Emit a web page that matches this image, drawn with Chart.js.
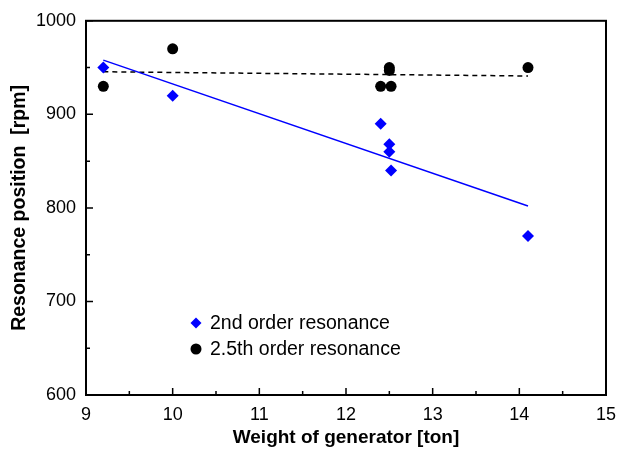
<!DOCTYPE html>
<html>
<head>
<meta charset="utf-8">
<script src="https://cdn.jsdelivr.net/npm/chart.js@4/dist/chart.umd.min.js"></script>
<style>
  html, body { margin: 0; padding: 0; background: #fff; }
  canvas { display: block; }
</style>
</head>
<body>
<canvas id="chart" width="619" height="450"></canvas>
<script>
// measured points
var weight2nd = [9.2, 10, 12.4, 12.5, 12.5, 12.52, 14.1];
var rpm2nd = [950, 920, 890, 868, 860, 840, 770];
var weight25 = [9.2, 10, 12.4, 12.5, 12.5, 12.52, 14.1];
var rpm25 = [930, 970, 930, 950, 947, 930, 950];

// trend lines (end points)
var fitWeight = [9.2, 14.1];
var fit2nd = [958, 802];
var fit25 = [945.5, 941];

var legendNames = ['2nd order resonance', '2.5th order resonance'];
var FONT = '"Liberation Sans", Arial, sans-serif';

function toPoints(xs, ys) {
    return xs.map(function (x, i) { return { x: x, y: ys[i] }; });
}

// frame, inward ticks and legend box inside the plot
var framePlugin = {
    id: 'frame',
    afterDraw: function (chart) {
        var ctx = chart.ctx;
        var a = chart.chartArea;
        var xs = chart.scales.x;
        var ys = chart.scales.y;
        ctx.save();
        ctx.strokeStyle = '#000';
        ctx.lineWidth = 2;
        ctx.strokeRect(a.left, a.top, a.right - a.left, a.bottom - a.top);

        ctx.lineWidth = 1.5;
        ctx.beginPath();
        for (var v = 9; v <= 15; v += 0.5) {
            var px = xs.getPixelForValue(v);
            var len = (v % 1 === 0) ? 7 : 4;
            ctx.moveTo(px, a.bottom);
            ctx.lineTo(px, a.bottom - len);
        }
        for (var r = 600; r <= 1000; r += 50) {
            var py = ys.getPixelForValue(r);
            var l = (r % 100 === 0) ? 7 : 4;
            ctx.moveTo(a.left, py);
            ctx.lineTo(a.left + l, py);
        }
        ctx.stroke();

        // legend
        var items = [
            { style: 'rectRot', color: '#0000ff', r: 5.5 },
            { style: 'circle', color: '#000', r: 5.5 }
        ];
        ctx.font = '19.5px ' + FONT;
        ctx.textBaseline = 'middle';
        items.forEach(function (it, i) {
            var y = 323 + i * 26;
            ctx.fillStyle = it.color;
            ctx.beginPath();
            if (it.style === 'circle') {
                ctx.arc(196, y, it.r, 0, Math.PI * 2);
            } else {
                ctx.moveTo(196, y - it.r);
                ctx.lineTo(196 + it.r, y);
                ctx.lineTo(196, y + it.r);
                ctx.lineTo(196 - it.r, y);
                ctx.closePath();
            }
            ctx.fill();
            ctx.fillStyle = '#000';
            ctx.fillText(legendNames[i], 210, y + 1);
        });
        ctx.restore();
    }
};

new Chart(document.getElementById('chart'), {
    type: 'scatter',
    data: {
        datasets: [
            {
                label: legendNames[0],
                data: toPoints(weight2nd, rpm2nd),
                pointStyle: 'rectRot',
                pointRadius: 6,
                backgroundColor: '#0000ff',
                borderColor: '#0000ff',
                borderWidth: 0
            },
            {
                label: legendNames[1],
                data: toPoints(weight25, rpm25),
                pointStyle: 'circle',
                pointRadius: 5.5,
                backgroundColor: '#000',
                borderColor: '#000',
                borderWidth: 0
            },
            {
                label: 'fit 2nd',
                type: 'line',
                data: toPoints(fitWeight, fit2nd),
                showLine: true,
                pointRadius: 0,
                borderColor: '#0000ff',
                borderWidth: 1.5,
                fill: false
            },
            {
                label: 'fit 2.5th',
                type: 'line',
                data: toPoints(fitWeight, fit25),
                showLine: true,
                pointRadius: 0,
                borderColor: '#000',
                borderWidth: 1.5,
                borderDash: [5, 4],
                fill: false
            }
        ]
    },
    options: {
        responsive: false,
        animation: false,
        devicePixelRatio: 1,
        layout: { padding: { left: 0, top: 13, right: 13, bottom: 0 } },
        plugins: {
            legend: { display: false },
            tooltip: { enabled: false }
        },
        scales: {
            x: {
                type: 'linear',
                min: 9,
                max: 15,
                grid: { display: false, drawTicks: false },
                border: { display: false },
                ticks: {
                    stepSize: 1,
                    color: '#000',
                    padding: 9,
                    font: { family: FONT, size: 18 },
                    callback: function (v) { return String(v); }
                },
                title: {
                    display: true,
                    text: 'Weight of generator [ton]',
                    color: '#000',
                    padding: { top: 0, bottom: 1 },
                    font: { family: FONT, size: 19, weight: 'bold' }
                },
                afterFit: function (scale) {
                    scale.height = 55;
                    scale.paddingLeft = 0;
                    scale.paddingRight = 0;
                }
            },
            y: {
                min: 600,
                max: 1000,
                grid: { display: false, drawTicks: false },
                border: { display: false },
                ticks: {
                    stepSize: 100,
                    color: '#000',
                    padding: 10,
                    font: { family: FONT, size: 18 },
                    callback: function (v) { return String(v); }
                },
                title: {
                    display: true,
                    text: 'Resonance position  [rpm]',
                    color: '#000',
                    padding: { top: 8, bottom: 0 },
                    font: { family: FONT, size: 19.5, weight: 'bold' }
                },
                afterFit: function (scale) { scale.width = 86; }
            }
        }
    },
    plugins: [framePlugin]
});
</script>
</body>
</html>
